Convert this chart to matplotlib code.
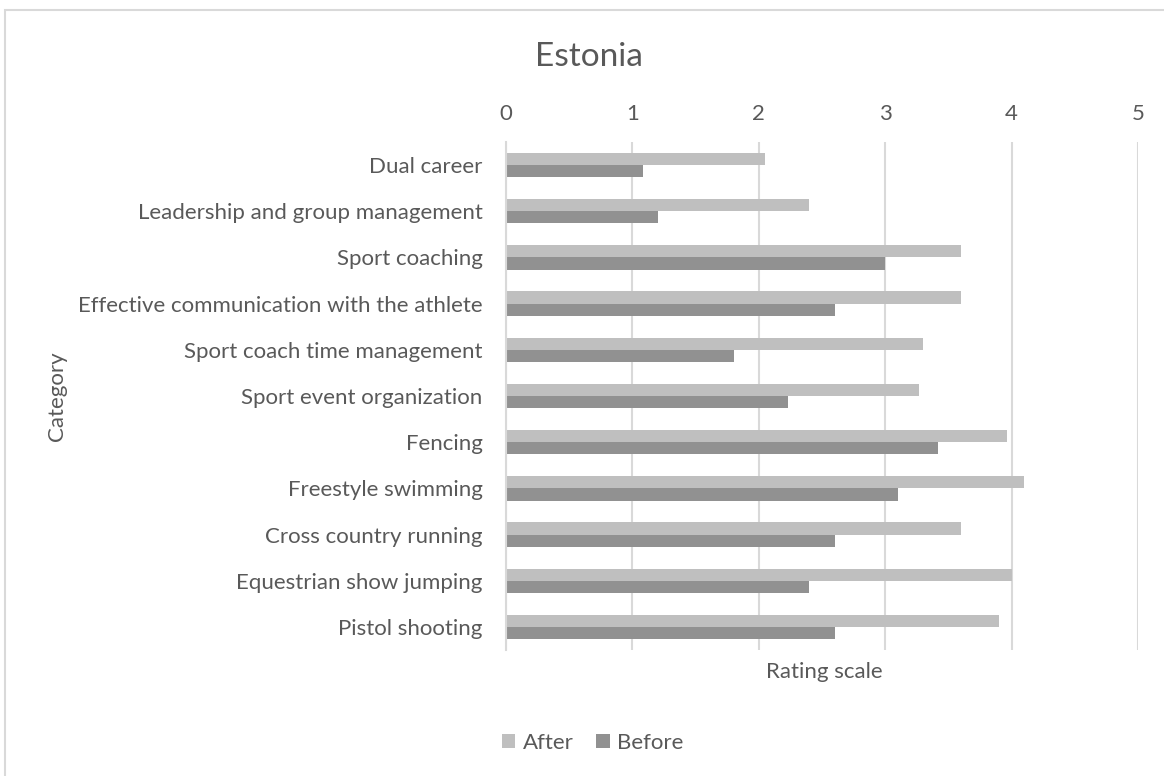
import numpy as np
import matplotlib.pyplot as plt
from matplotlib.patches import Rectangle

# Dane: ocena kompetencji trenerów (Estonia), przed i po szkoleniu
categories = [
    "Dual career",
    "Leadership and group management",
    "Sport coaching",
    "Effective communication with the athlete",
    "Sport coach time management",
    "Sport event organization",
    "Fencing",
    "Freestyle swimming",
    "Cross country running",
    "Equestrian show jumping",
    "Pistol shooting",
]
after = [2.05, 2.40, 3.60, 3.60, 3.30, 3.27, 3.96, 4.10, 3.60, 4.00, 3.90]
before = [1.08, 1.20, 3.00, 2.60, 1.80, 2.23, 3.42, 3.10, 2.60, 2.40, 2.60]
x_ticks = [0, 1, 2, 3, 4, 5]

TEXT = "#595959"
GRID = "#D9D9D9"
C_AFTER = "#BFBFBF"
C_BEFORE = "#919191"
FONT = "Lato"
FS = 16

plt.rcParams['font.family'] = [FONT, 'DejaVu Sans']

W, H = 1164, 776
fig = plt.figure(figsize=(W / 100, H / 100), dpi=100)

# obszar wykresu w pikselach: x 506..1138, y 142..650
ax = fig.add_axes([506 / W, 1 - 650 / H, (1138 - 506) / W, (650 - 142) / H])

y = np.arange(len(categories))
h = 0.263
ax.barh(y - h / 2, after, height=h, color=C_AFTER, label="After", zorder=3)
ax.barh(y + h / 2, before, height=h, color=C_BEFORE, label="Before", zorder=3)

ax.set_ylim(len(categories) - 0.5, -0.5)
ax.set_xlim(0, 5)
ax.set_xticks(x_ticks)
ax.set_yticks(y)
ax.set_yticklabels(categories)

ax.xaxis.tick_top()
ax.tick_params(axis='x', length=0, pad=13, labelsize=FS, labelcolor=TEXT)
ax.tick_params(axis='y', length=0, pad=17, labelsize=FS, labelcolor=TEXT)

ax.grid(axis='x', color=GRID, linewidth=1.5, zorder=0)
for side in ['top', 'right', 'bottom']:
    ax.spines[side].set_visible(False)
ax.spines['left'].set_color(GRID)
ax.spines['left'].set_linewidth(1.5)
ax.spines['left'].set_zorder(4)

# tytuły
fig.text(589 / W, 1 - 57 / H, "Estonia", ha='center', va='center',
         fontsize=24, color=TEXT)
fig.text(824 / W, 1 - 672 / H, "Rating scale", ha='center', va='center',
         fontsize=FS, color=TEXT)
fig.text(57 / W, 1 - 396 / H, "Category", ha='center', va='center',
         rotation=90, fontsize=FS, color=TEXT)

# legenda pod wykresem
fig.legend(loc='center', bbox_to_anchor=(593 / W, 1 - 743 / H), ncol=2,
           frameon=False, fontsize=FS, labelcolor=TEXT,
           handlelength=0.6, handleheight=0.6, handletextpad=0.35,
           columnspacing=1.0)

# ramka wokół całego wykresu
fig.patches.append(Rectangle((5 / W, -0.05), 1.1, 1 - 10 / H + 0.05,
                             transform=fig.transFigure, fill=False,
                             edgecolor=GRID, linewidth=1.5))

fig.savefig("out.png", dpi=100, facecolor="white")
